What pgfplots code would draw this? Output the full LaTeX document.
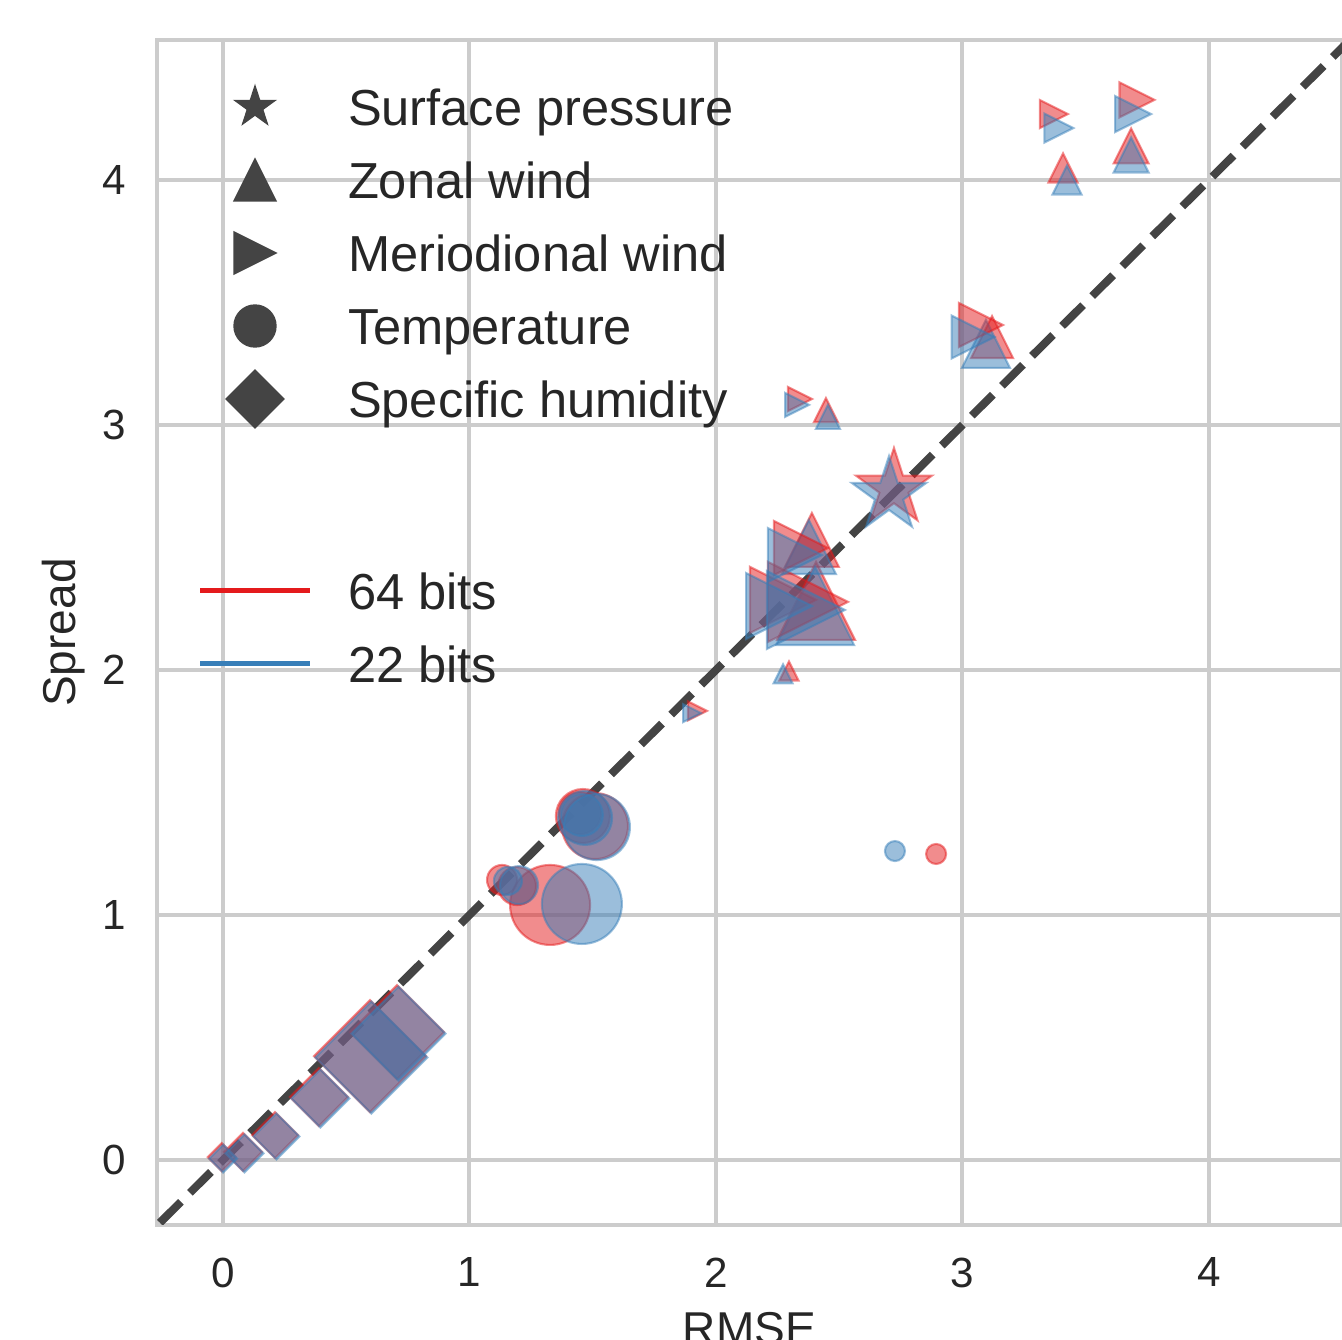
\documentclass[border=0pt]{standalone}
\usepackage{fontspec}
\setmainfont{Liberation Sans}
\usepackage{pgfplots}
\usepackage{pgfplotstable}
\pgfplotsset{compat=1.18}
\definecolor{c64}{HTML}{E41A1C}
\definecolor{c22}{HTML}{377EB8}
\definecolor{gridc}{HTML}{CCCCCC}
\definecolor{dashc}{HTML}{444444}
\definecolor{txt}{HTML}{262626}
\definecolor{legc}{HTML}{444444}

\pgfdeclareplotmark{mtri}{%
  \pgfpathmoveto{\pgfqpoint{0pt}{\pgfplotmarksize}}%
  \pgfpathlineto{\pgfqpoint{-\pgfplotmarksize}{-\pgfplotmarksize}}%
  \pgfpathlineto{\pgfqpoint{\pgfplotmarksize}{-\pgfplotmarksize}}%
  \pgfpathclose\pgfusepathqfillstroke}
\pgfdeclareplotmark{mrtri}{%
  \pgfpathmoveto{\pgfqpoint{\pgfplotmarksize}{0pt}}%
  \pgfpathlineto{\pgfqpoint{-\pgfplotmarksize}{\pgfplotmarksize}}%
  \pgfpathlineto{\pgfqpoint{-\pgfplotmarksize}{-\pgfplotmarksize}}%
  \pgfpathclose\pgfusepathqfillstroke}
\pgfdeclareplotmark{mdiam}{%
  \pgfpathmoveto{\pgfqpoint{0pt}{\pgfplotmarksize}}%
  \pgfpathlineto{\pgfqpoint{\pgfplotmarksize}{0pt}}%
  \pgfpathlineto{\pgfqpoint{0pt}{-\pgfplotmarksize}}%
  \pgfpathlineto{\pgfqpoint{-\pgfplotmarksize}{0pt}}%
  \pgfpathclose\pgfusepathqfillstroke}
\pgfdeclareplotmark{mstar}{%
  \pgfpathmoveto{\pgfqpoint{0pt}{\pgfplotmarksize}}%
  \pgfpathlineto{\pgfqpoint{-0.224514\pgfplotmarksize}{0.309017\pgfplotmarksize}}%
  \pgfpathlineto{\pgfqpoint{-0.951057\pgfplotmarksize}{0.309017\pgfplotmarksize}}%
  \pgfpathlineto{\pgfqpoint{-0.363271\pgfplotmarksize}{-0.118034\pgfplotmarksize}}%
  \pgfpathlineto{\pgfqpoint{-0.587785\pgfplotmarksize}{-0.809017\pgfplotmarksize}}%
  \pgfpathlineto{\pgfqpoint{0pt}{-0.381966\pgfplotmarksize}}%
  \pgfpathlineto{\pgfqpoint{0.587785\pgfplotmarksize}{-0.809017\pgfplotmarksize}}%
  \pgfpathlineto{\pgfqpoint{0.363271\pgfplotmarksize}{-0.118034\pgfplotmarksize}}%
  \pgfpathlineto{\pgfqpoint{0.951057\pgfplotmarksize}{0.309017\pgfplotmarksize}}%
  \pgfpathlineto{\pgfqpoint{0.224514\pgfplotmarksize}{0.309017\pgfplotmarksize}}%
  \pgfpathclose\pgfusepathqfillstroke}

\pgfplotsset{
  mystyle/.style 2 args={scatter, only marks, mark=#1,
    point meta=\thisrow{s},
    scatter/use mapped color={draw=#2, fill=#2},
    mark options={line width=0.6pt, fill opacity=0.5, draw opacity=0.5},
    visualization depends on={0.2845*\thisrow{s} \as \ms},
    scatter/@pre marker code/.append style={/tikz/mark size=\ms pt},
    forget plot},
  legmark/.style={legend image code/.code={%
    \begin{pgfinterruptboundingbox}%
    \draw[##1] plot[only marks] coordinates {(0.55cm,0cm)};%
    \end{pgfinterruptboundingbox}%
    \path[draw=none, fill=none] (0cm,-0.365cm) rectangle (1.1cm,0.365cm);}},
  legline/.style={legend image code/.code={%
    \begin{pgfinterruptboundingbox}%
    \draw[##1] (0cm,0cm) -- (1.1cm,0cm);%
    \end{pgfinterruptboundingbox}%
    \path[draw=none, fill=none] (0cm,-0.365cm) rectangle (1.1cm,0.365cm);}},
  legspace/.style={legend image code/.code={%
    \path[draw=none, fill=none] (0cm,-0.595cm) rectangle (1.1cm,0.595cm);}},
}

% Surface pressure (stars)
\pgfplotstableread{
x y s
2.722 2.743 40
}\spred
\pgfplotstableread{
x y s
2.702 2.714 39
}\spblue
% Zonal wind (up triangles)
\pgfplotstableread{
x y s
2.296 1.996 9.5
2.446 3.061 12
2.389 2.531 27
2.406 2.282 39
3.120 3.359 21
3.408 4.049 14.5
3.684 4.139 17.5
}\zwred
\pgfplotstableread{
x y s
2.272 1.984 9.5
2.454 3.033 12
2.377 2.502 27
2.402 2.261 39
3.095 3.331 24
3.424 4.000 14.5
3.684 4.102 17.5
}\zwblue
% Meridional wind (right triangles)
\pgfplotstableread{
x y s
1.925 1.833 9.5
2.341 3.106 12
2.345 2.498 27
2.272 2.286 33
2.373 2.278 40
3.075 3.408 22
3.371 4.269 14
3.708 4.327 17.5
}\mwred
\pgfplotstableread{
x y s
1.903 1.824 9
2.329 3.082 12
2.320 2.469 27
2.256 2.261 33
2.365 2.245 39
3.043 3.359 21.5
3.391 4.212 14.5
3.692 4.269 18
}\mwblue
% Temperature (circles)
\pgfplotstableread{
x y s
1.132 1.143 15
1.193 1.118 19
1.327 1.041 40
1.448 1.416 21
1.460 1.404 27
1.509 1.363 33
2.893 1.249 10
}\tred
\pgfplotstableread{
x y s
1.156 1.139 14
1.201 1.122 19
1.456 1.045 40
1.456 1.408 21
1.469 1.396 27
1.517 1.359 33
2.726 1.261 10
}\tblue
% Specific humidity (diamonds)
\pgfplotstableread{
x y s
-0.005 0.012 14
0.081 0.033 19
0.211 0.102 23
0.389 0.257 29
0.596 0.424 56
0.706 0.522 47
}\qred
\pgfplotstableread{
x y s
0.001 0.006 14
0.087 0.027 19
0.217 0.096 23
0.395 0.251 29
0.602 0.418 56
0.712 0.516 47
}\qblue

\begin{document}
\begin{tikzpicture}
\useasboundingbox (-1.57cm,-1.15cm) rectangle (11.85cm,12.25cm);
\begin{axis}[
  at={(0,0)}, anchor=south west,
  scale only axis, width=11.85cm, height=11.85cm,
  xmin=-0.2677, xmax=4.5396, ymin=-0.2653, ymax=4.5714,
  xtick={0,1,2,3,4}, ytick={0,1,2,3,4},
  major tick length=0pt,
  grid=major,
  major grid style={line width=1.14pt, draw=gridc},
  axis line style={line width=1.14pt, draw=gridc},
  /pgf/number format/assume math mode=true,
  tick label style={font=\fontsize{12}{14}\selectfont, text=txt},
  xticklabel style={inner sep=0pt, anchor=north, yshift=-9.1pt},
  yticklabel style={inner sep=0pt, anchor=east, xshift=-8.5pt},
  xlabel={RMSE}, ylabel={Spread},
  label style={font=\fontsize{13.1}{15}\selectfont, text=txt},
  xlabel style={at={(axis description cs:0.5,-0.0734)}, anchor=north, inner sep=0pt},
  ylabel style={at={(axis description cs:-0.0692,0.5)}, anchor=base, inner sep=0pt},
  legend style={at={(0,1)}, anchor=north west, xshift=0.43cm, yshift=-0.305cm,
    draw=none, fill=none, inner sep=0pt, outer sep=0pt, row sep=0pt, column sep=0.38cm,
    font=\fontsize{14.4}{17}\selectfont, text=txt, cells={anchor=west},
    nodes={inner sep=0pt, text height=10.3pt, text depth=0pt}},
]
\addlegendimage{legmark, mark=mstar, mark size=5.97pt, draw=legc, fill=legc}
\addlegendentry{Surface pressure}
\addlegendimage{legmark, mark=mtri, mark size=5.97pt, draw=legc, fill=legc}
\addlegendentry{Zonal wind}
\addlegendimage{legmark, mark=mrtri, mark size=5.97pt, draw=legc, fill=legc}
\addlegendentry{Meriodional wind}
\addlegendimage{legmark, mark=*, mark size=5.97pt, draw=legc, fill=legc}
\addlegendentry{Temperature}
\addlegendimage{legmark, mark=mdiam, mark size=8.25pt, draw=legc, fill=legc}
\addlegendentry{Specific humidity}
\addlegendimage{legspace}
\addlegendentry{\phantom{x}}
\addlegendimage{legline, draw=c64, line width=1.42pt}
\addlegendentry{64 bits}
\addlegendimage{legline, draw=c22, line width=1.42pt}
\addlegendentry{22 bits}

\addplot[mystyle={mdiam}{c64}] table[x=x,y=y]{\qred};
\addplot[mystyle={mdiam}{c22}] table[x=x,y=y]{\qblue};
\addplot[mystyle={*}{c64}] table[x=x,y=y]{\tred};
\addplot[mystyle={*}{c22}] table[x=x,y=y]{\tblue};
\addplot[mystyle={mtri}{c64}] table[x=x,y=y]{\zwred};
\addplot[mystyle={mtri}{c22}] table[x=x,y=y]{\zwblue};
\addplot[mystyle={mrtri}{c64}] table[x=x,y=y]{\mwred};
\addplot[mystyle={mrtri}{c22}] table[x=x,y=y]{\mwblue};
\addplot[mystyle={mstar}{c64}] table[x=x,y=y]{\spred};
\addplot[mystyle={mstar}{c22}] table[x=x,y=y]{\spblue};

\addplot[dashc, line width=2.28pt, dash pattern=on 0.296cm off 0.128cm, forget plot]
  coordinates {(-0.5,-0.5) (5,5)};
\end{axis}
\end{tikzpicture}
\end{document}
